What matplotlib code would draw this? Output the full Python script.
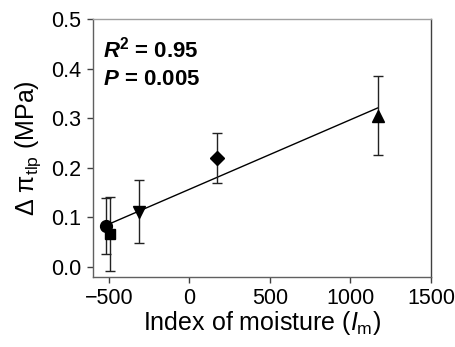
import numpy as np
import matplotlib
matplotlib.use("Agg")
import matplotlib.pyplot as plt

plt.rcParams['font.family'] = ['Liberation Sans', 'DejaVu Sans']
plt.rcParams['mathtext.fontset'] = 'custom'
plt.rcParams['mathtext.rm'] = 'Liberation Sans'
plt.rcParams['mathtext.it'] = 'Liberation Sans:italic'
plt.rcParams['mathtext.bf'] = 'Liberation Sans:bold'
plt.rcParams['mathtext.bfit'] = 'Liberation Sans:bold:italic'

# data
im_x = [-520, -494, -315, 171, 1168]
dpi_y = [0.082, 0.066, 0.111, 0.219, 0.305]
dpi_err = [0.057, 0.074, 0.064, 0.050, 0.079]
markers = ['o', 's', 'v', 'D', '^']
marker_sizes = [8.5, 7.5, 9, 7.5, 9]
xticks = [-500, 0, 500, 1000, 1500]
yticks = [0.0, 0.1, 0.2, 0.3, 0.4, 0.5]

fig = plt.figure(figsize=(4.56, 3.47), dpi=100)
ax = fig.add_axes([92.7/456, 1 - 276.7/347, (431 - 92.7)/456, (276.7 - 19)/347])

for x, y, e, m, s in zip(im_x, dpi_y, dpi_err, markers, marker_sizes):
    ax.errorbar(x, y, yerr=e, fmt=m, color='black', ms=s, ecolor='#222222',
                elinewidth=1.0, capsize=3.5, capthick=1.0, zorder=3)

coef = np.polyfit(im_x, dpi_y, 1)
xl = np.array([min(im_x), max(im_x)])
ax.plot(xl, np.polyval(coef, xl), color='black', lw=1.0, zorder=2)

ax.set_xlim(-600, 1500)
ax.set_ylim(-0.02, 0.5)
ax.set_xticks(xticks)
ax.set_yticks(yticks)
ax.set_xticklabels(['\u2212500', '0', '500', '1000', '1500'])
ax.set_yticklabels([f'{v:.1f}' for v in yticks])
ax.tick_params(direction='out', length=4, width=1, labelsize=15.5, colors='#404040',
               labelcolor='black', pad=4)

ax.spines['top'].set_color('#a0a0a0')
ax.spines['right'].set_color('#404040')
ax.spines['left'].set_color('#606060')
ax.spines['bottom'].set_color('#606060')
for s in ax.spines.values():
    s.set_linewidth(1.0)

ax.set_xlabel(r'Index of moisture ($\mathit{I}_{\mathrm{m}}$)', fontsize=18, labelpad=0)
ax.set_ylabel('\u0394 \u03c0' + r'$_{\mathrm{tlp}}$' + ' (MPa)', fontsize=18, labelpad=6)

ax.text(0.03, 0.85, r'$\mathbfit{R}^{\mathbf{2}}$' + ' = 0.95', transform=ax.transAxes,
        fontsize=16, fontweight='bold')
ax.text(0.03, 0.745, r'$\mathbfit{P}$' + ' = 0.005', transform=ax.transAxes,
        fontsize=16, fontweight='bold')

fig.savefig('out.png', dpi=100)
